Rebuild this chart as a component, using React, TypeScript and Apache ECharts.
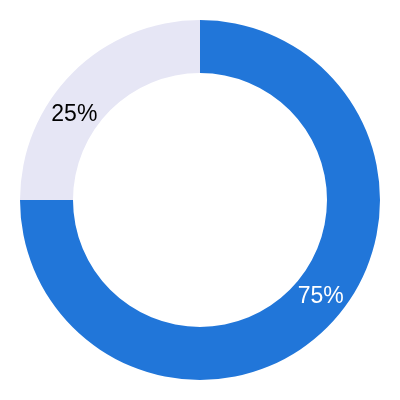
import React, { useEffect, useRef } from "react";
import * as echarts from "echarts";

const categories = ["A", "B"];
const values = [75, 25];
const labels = ["75%", "25%"];

export default function App() {
  const ref = useRef<HTMLDivElement>(null);
  useEffect(() => {
    if (!ref.current) return;
    const chart = echarts.init(ref.current, null, { renderer: "svg" });
    chart.setOption({
      animation: false,
      series: [
        {
          type: "pie",
          center: ["50%", "50%"],
          radius: [127, 180],
          startAngle: 90,
          clockwise: true,
          silent: true,
          label: {
            show: true,
            position: "inside",
            fontSize: 23,
            fontFamily: "Liberation Sans, Arial, sans-serif",
            formatter: (p: any) => labels[p.dataIndex],
          },
          labelLine: { show: false },
          data: [
            {
              name: categories[0],
              value: values[0],
              itemStyle: { color: "#2176D9" },
              label: { color: "#ffffff", offset: [10, -16] },
            },
            {
              name: categories[1],
              value: values[1],
              itemStyle: { color: "#E6E6F5" },
              label: { color: "#000000", offset: [-15, 24] },
            },
          ],
        },
      ],
    });
    return () => chart.dispose();
  }, []);
  return (
    <div
      ref={ref}
      style={{ position: "fixed", left: 0, top: 0, width: 400, height: 400 }}
    />
  );
}
